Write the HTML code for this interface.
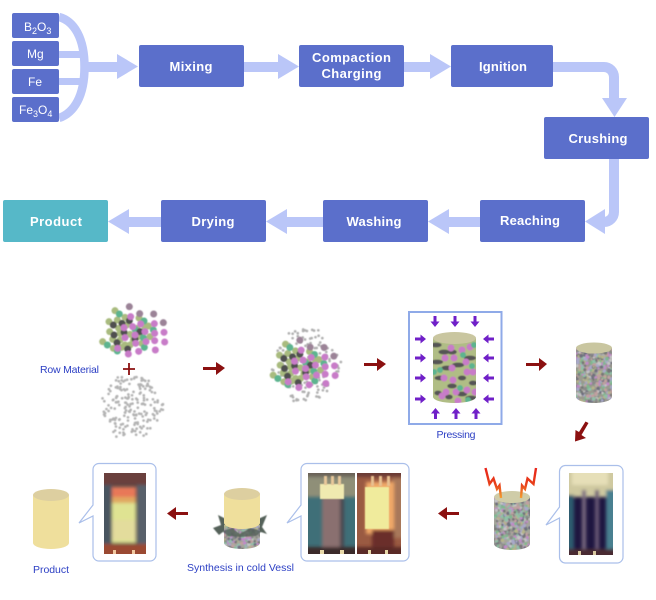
<!DOCTYPE html>
<html><head><meta charset="utf-8"><style>
html,body{margin:0;padding:0;background:#fff;width:656px;height:600px;overflow:hidden}
svg{display:block}
.b{font:bold 13px "Liberation Sans",sans-serif;fill:#fff;text-anchor:middle}
.s{font:12px "Liberation Sans",sans-serif;fill:#fff}
.l{font:10.5px "Liberation Sans",sans-serif;fill:#2c3fc4}
</style></head><body>
<svg xmlns="http://www.w3.org/2000/svg" width="656" height="600" viewBox="0 0 656 600">
<defs>
<filter id="bl" x="-20%" y="-20%" width="140%" height="140%"><feGaussianBlur stdDeviation="0.4"/></filter>
<filter id="sb" x="-5%" y="-5%" width="110%" height="110%"><feGaussianBlur stdDeviation="0.55"/></filter>
<filter id="ph" x="-10%" y="-10%" width="120%" height="120%"><feGaussianBlur stdDeviation="1.6"/></filter>
<linearGradient id="lg" x1="0" y1="0" x2="0" y2="1"><stop offset="0" stop-color="#e8241a"/><stop offset=".55" stop-color="#e8401a"/><stop offset="1" stop-color="#f4a030"/></linearGradient>
<clipPath id="c1"><path d="M433 338V397A21.500 6 0 0 0 476 397V338Z"/></clipPath>
<clipPath id="c2"><path d="M576 348V397A18 6 0 0 0 612 397V348Z"/></clipPath>
<clipPath id="c3"><path d="M494 497V544A18 6 0 0 0 530 544V497Z"/></clipPath>
<clipPath id="c4"><path d="M224 525V543A18 6 0 0 0 260 543V525Z"/></clipPath>
<clipPath id="p1"><rect x="104" y="473" width="42" height="81"/></clipPath>
<clipPath id="p2"><rect x="308" y="473" width="47" height="81"/></clipPath>
<clipPath id="p3"><rect x="357" y="473" width="44" height="81"/></clipPath>
<clipPath id="p4"><rect x="569" y="473" width="44" height="82"/></clipPath>
</defs>

<!-- top connectors -->
<g fill="#bac6f8">
<path d="M59 17C74 21 84.500 38 84.500 67C84.500 96 74 113 59 118" fill="none" stroke="#bac6f8" stroke-width="8.500"/>
<rect x="59" y="51" width="24" height="7"/><rect x="59" y="78" width="24" height="7"/>
<rect x="87" y="62" width="31" height="10"/><path d="M117 54L138 66.500L117 79Z"/>
<rect x="244" y="62" width="35" height="10"/><path d="M278 54L299 66.500L278 79Z"/>
<rect x="404" y="62" width="27" height="10"/><path d="M430 54L451 66.500L430 79Z"/>
<path d="M553 67H604A10 10 0 0 1 614 77V99" fill="none" stroke="#bac6f8" stroke-width="10"/>
<path d="M602 98H627L614.500 117Z"/>
<path d="M614 159V212A10 10 0 0 1 604 222H604" fill="none" stroke="#bac6f8" stroke-width="10"/>
<path d="M605 209V234L585 221.500Z"/>
<rect x="448" y="217" width="32" height="10"/><path d="M449 209V234L428 221.500Z"/>
<rect x="286" y="217" width="37" height="10"/><path d="M287 209V234L266 221.500Z"/>
<rect x="128" y="217" width="33" height="10"/><path d="M129 209V234L108 221.500Z"/>
</g>

<!-- top boxes -->
<g fill="#5b6fcb">
<rect x="12" y="13" width="47" height="25" rx="2"/><rect x="12" y="41" width="47" height="25" rx="2"/>
<rect x="12" y="69" width="47" height="25" rx="2"/><rect x="12" y="97" width="47" height="25" rx="2"/>
<rect x="139" y="45" width="105" height="42" rx="2"/><rect x="299" y="45" width="105" height="42" rx="2"/>
<rect x="451" y="45" width="102" height="42" rx="2"/><rect x="544" y="117" width="105" height="42" rx="2"/>
<rect x="480" y="200" width="105" height="42" rx="2"/><rect x="323" y="200" width="105" height="42" rx="2"/>
<rect x="161" y="200" width="105" height="42" rx="2"/>
</g>
<rect x="3" y="200" width="105" height="42" rx="2" fill="#56b8c8"/>

<text class="s" x="24" y="31">B<tspan font-size="9" dy="3">2</tspan><tspan dy="-3">O</tspan><tspan font-size="9" dy="3">3</tspan></text>
<text class="s" x="27" y="58">Mg</text>
<text class="s" x="28" y="86">Fe</text>
<text class="s" x="19" y="114">Fe<tspan font-size="9" dy="3">3</tspan><tspan dy="-3">O</tspan><tspan font-size="9" dy="3">4</tspan></text>

<text class="b" x="191" y="71" textLength="43">Mixing</text>
<text class="b" x="351.500" y="62" textLength="79">Compaction</text>
<text class="b" x="351.500" y="78" textLength="60">Charging</text>
<text class="b" x="503" y="71" textLength="48">Ignition</text>
<text class="b" x="598" y="143" textLength="59">Crushing</text>
<text class="b" x="530" y="225" textLength="60">Reaching</text>
<text class="b" x="374" y="226" textLength="55">Washing</text>
<text class="b" x="213" y="226" textLength="43">Drying</text>
<text class="b" x="56" y="226" textLength="52">Product</text>

<!-- particle clusters -->
<g id="gray1" fill="#b4b4b4" filter="url(#bl)"></g>
<g id="gray2" fill="#b0b0b0" filter="url(#bl)"></g>
<g id="col1" filter="url(#bl)"></g>
<g id="col2" filter="url(#bl)"></g>

<text class="l" x="40" y="373" textLength="59">Row Material</text>
<path d="M129 363V375M123 369H135" stroke="#8b1010" stroke-width="1.800" fill="none"/>

<!-- red arrows -->
<g fill="#8b1010">
<path d="M203 367H216V362L225 368L216 375V370H203Z"/>
<path d="M364 363H377V358L386 364L377 371V366H364Z"/>
<path d="M526 363H539V358L547 364L539 371V366H526Z"/>
<path d="M585.500 421.500L588.500 423L581.500 435L586 438L575 441.500L575.500 430L579 432Z"/>
<path d="M459 512H447V507L438 513.500L447 520V515H459Z"/>
<path d="M188 512H176V507L167 513.500L176 520V515H188Z"/>
</g>

<!-- pressing -->
<rect x="409" y="312" width="92.500" height="112" fill="#fff" stroke="#8faae8" stroke-width="2"/>
<g clip-path="url(#c1)"><g filter="url(#sb)"><rect x="430" y="335" width="49" height="72" fill="#b0bd85"/><g id="press"></g></g></g>
<ellipse cx="454.500" cy="338" rx="21.500" ry="6" fill="#c9c6a0"/>
<g fill="#7020c8" id="parrows"></g>
<text class="l" x="456" y="438" text-anchor="middle" textLength="39">Pressing</text>

<!-- mixed cylinder -->
<g clip-path="url(#c2)"><g filter="url(#sb)"><rect x="573" y="345" width="42" height="62" fill="#9a9a8e"/><g id="sp2"></g></g></g>
<ellipse cx="594" cy="348" rx="18" ry="5.500" fill="#c9c6a0"/>

<!-- ignition cylinder -->
<g clip-path="url(#c3)"><g filter="url(#sb)"><rect x="491" y="494" width="42" height="60" fill="#a5a59b"/><g id="sp3"></g></g></g>
<ellipse cx="512" cy="497" rx="18" ry="6" fill="#cfcca8"/>
<path d="M485.500 468L489.500 484L493.500 478.500L497 489L499.500 485.500L501 498" fill="none" stroke="url(#lg)" stroke-width="2.400"/>
<path d="M536 468L533.500 484L527.500 478.500L525 489L522 485.500L521 498" fill="none" stroke="url(#lg)" stroke-width="2.400"/>

<!-- callouts -->
<g fill="#fff" stroke="#aabfea" stroke-width="1.200">
<path d="M565 465.500H617A6 6 0 0 1 623 471.500V557A6 6 0 0 1 617 563H565A6 6 0 0 1 559.500 557V518L546 525L559.500 507V471.500A6 6 0 0 1 565 465.500Z"/>
<path d="M307 463.500H403A6 6 0 0 1 409 469.500V555A6 6 0 0 1 403 561H307A6 6 0 0 1 301 555V516L287 523L301 505V469.500A6 6 0 0 1 307 463.500Z"/>
<path d="M99 463.500H150A6 6 0 0 1 156 469.500V555A6 6 0 0 1 150 561H99A6 6 0 0 1 93 555V516L79 523L93 505V469.500A6 6 0 0 1 99 463.500Z"/>
</g>

<!-- photo: right -->
<g clip-path="url(#p4)">
<rect x="569" y="473" width="44" height="82" fill="#1e1640"/>
<g filter="url(#ph)">
<rect x="560" y="465" width="60" height="32" fill="#cfc9a0"/>
<rect x="562" y="495" width="12" height="66" fill="#2f5c70"/>
<rect x="606" y="490" width="12" height="70" fill="#4a8090"/>
<rect x="572" y="465" width="36" height="20" fill="#e6dfb8"/>
<rect x="582" y="490" width="4" height="66" fill="#7a6a80"/>
<rect x="595" y="490" width="4" height="66" fill="#6a5a76"/>
<rect x="565" y="549" width="52" height="10" fill="#4a2c30"/>
</g>
<rect x="578" y="551" width="3" height="4" fill="#d8c8a0"/><rect x="593" y="551" width="3" height="4" fill="#d8c8a0"/>
</g>

<!-- photo: middle left -->
<g clip-path="url(#p2)">
<rect x="308" y="473" width="47" height="81" fill="#3f6f78"/>
<g filter="url(#ph)">
<rect x="300" y="465" width="60" height="12" fill="#6a6258"/>
<rect x="300" y="477" width="60" height="20" fill="#8f8f78"/>
<rect x="322" y="495" width="20" height="55" fill="#8a6f70"/>
<rect x="340" y="498" width="4" height="50" fill="#4a4650"/>
<rect x="300" y="547" width="60" height="12" fill="#3a2c2c"/>
</g>
<rect x="320" y="484" width="24" height="15" fill="#f0eab0" filter="url(#bl)"/>
<g filter="url(#bl)"><rect x="324" y="476" width="3" height="9" fill="#e8c89a"/><rect x="331" y="476" width="3" height="9" fill="#e8c89a"/><rect x="338" y="476" width="3" height="9" fill="#e8c89a"/></g>
<rect x="320" y="550" width="4" height="4" fill="#e8d8a8"/><rect x="340" y="550" width="4" height="4" fill="#e8d8a8"/>
</g>

<!-- photo: middle right -->
<g clip-path="url(#p3)">
<rect x="357" y="473" width="44" height="81" fill="#9a5a42"/>
<g filter="url(#ph)">
<rect x="350" y="465" width="58" height="12" fill="#6a3a34"/>
<rect x="392" y="478" width="12" height="60" fill="#a8785a"/>
<rect x="366" y="482" width="28" height="52" fill="#f0a868"/>
<rect x="372" y="530" width="22" height="20" fill="#6a2f2c"/>
<rect x="350" y="547" width="58" height="12" fill="#5a2c28"/>
</g>
<g filter="url(#bl)"><rect x="371" y="476" width="3" height="10" fill="#e8c090"/><rect x="379" y="476" width="3" height="10" fill="#e8c090"/><rect x="387" y="476" width="3" height="10" fill="#e8c090"/></g>
<rect x="365" y="487" width="24" height="42" fill="#f0eb9c" filter="url(#bl)"/>
<rect x="368" y="550" width="3" height="4" fill="#e8d8a8"/><rect x="385" y="550" width="3" height="4" fill="#e8d8a8"/>
</g>

<!-- photo: left -->
<g clip-path="url(#p1)">
<rect x="104" y="473" width="42" height="81" fill="#4a4848"/>
<g filter="url(#ph)">
<rect x="98" y="467" width="54" height="18" fill="#6a3f3c"/>
<rect x="98" y="485" width="14" height="62" fill="#4a5560"/>
<rect x="137" y="485" width="14" height="62" fill="#58606a"/>
<rect x="112" y="487" width="24" height="12" fill="#e87858"/>
<rect x="112" y="497" width="24" height="7" fill="#e0a860"/>
<rect x="112" y="503" width="24" height="40" fill="#dfe392"/>
<rect x="112" y="520" width="24" height="20" fill="#e3dc9c"/>
<rect x="98" y="544" width="54" height="14" fill="#9a4a30"/>
</g>
<rect x="113" y="550" width="3" height="4" fill="#f0c8a0"/><rect x="132" y="550" width="3" height="4" fill="#f0c8a0"/>
</g>

<!-- synthesis cylinder -->
<path d="M213 528L221 525L218 515L226 519L230 512L236 522H250L258 519L267 515L262 527L267 534L258 531L252 535L242 533L232 535L224 531L219 535Z" fill="#55625a" filter="url(#bl)"/>
<g clip-path="url(#c4)"><g filter="url(#sb)"><rect x="221" y="522" width="42" height="32" fill="#a5a59b"/><g id="sp4"></g></g></g>
<path d="M222 531L232 528L240 534L250 528L262 531L256 536L240 537L228 536Z" fill="#55625a" opacity=".85" filter="url(#bl)"/>
<path d="M224 494V523A18 6 0 0 0 260 523V494Z" fill="#efdf9c"/>
<ellipse cx="242" cy="494" rx="18" ry="6" fill="#ddcfa0"/>
<text class="l" x="187" y="571" textLength="107">Synthesis in cold Vessl</text>

<!-- product cylinder -->
<path d="M33 495V543A18 6 0 0 0 69 543V495Z" fill="#efdf9c"/>
<ellipse cx="51" cy="495" rx="18" ry="6" fill="#ddcfa0"/>
<text class="l" x="51" y="573" text-anchor="middle" textLength="36">Product</text>
</svg>
<script>
(function(){
var NS="http://www.w3.org/2000/svg",seed=12345;
function r(){seed=(seed*1664525+1013904223)%4294967296;return seed/4294967296;}
function add(p,tag,attrs){var e=document.createElementNS(NS,tag);for(var k in attrs)e.setAttribute(k,attrs[k]);p.appendChild(e);}
var $=function(i){return document.getElementById(i);};
var C={
 "#a9bb7f":[[285,62],[267,95],[292,90],[315,82],[357,84],[269,125],[296,115],[248,155],[278,148],[300,150],[330,133],[350,115],[385,108],[390,140],[315,165],[280,175],[355,140],[320,105],[340,150],[365,160],[300,130],[375,112],[330,165],[305,172]],
 "#5db48f":[[298,72],[372,93],[345,118],[400,120],[262,165],[292,183],[373,172],[370,143]],
 "#4f4f4f":[[280,105],[306,100],[328,92],[282,135],[312,127],[291,158],[345,147],[323,177],[360,125]],
 "#c87cc8":[[332,80],[312,113],[338,110],[362,102],[403,101],[375,125],[404,130],[345,135],[315,143],[378,155],[404,152],[347,160],[293,175],[325,192],[356,184],[406,180],[434,156],[432,127]],
 "#9b8397":[[328,50],[359,71],[401,72],[430,98]]};
function cluster(g,dx,dy){for(var c in C)C[c].forEach(function(p){add(g,"circle",{cx:20+p[0]/3+dx,cy:290+p[1]/3+dy,r:3.5,fill:c});});}
cluster($("col1"),0,0);cluster($("col2"),170.500,33.500);
function grays(g,cx,cy,rx,ry,n,rad){var i=0;while(i<n){var x=(r()*2-1),y=(r()*2-1);if(Math.abs(x)+Math.abs(y)*.55>1)continue;add(g,"circle",{cx:cx+x*rx,cy:cy+y*ry,r:rad});i++;}}
grays($("gray1"),131,407,35,30,190,1.35);
grays($("gray2"),307,365,38,36,150,1.35);
// pressing cylinder blobs
var pg=$("press");
[[436,345],[444,352],[437,362],[447,368],[458,365],[470,358],[441,378],[452,386],[462,378],[473,383],[438,393],[449,397],[462,394],[471,398],[452,352]].forEach(function(p){add(pg,"ellipse",{cx:p[0],cy:p[1],rx:3.5+r()*3,ry:2.4,fill:"#555"});});
[[451,348],[462,350],[470,347],[466,362],[445,358],[454,358],[444,378],[453,380],[467,372],[446,392],[456,392],[467,390],[442,396],[458,401],[473,372],[452,368],[475,392]].forEach(function(p){add(pg,"circle",{cx:p[0],cy:p[1],r:3.5,fill:"#c87cc8"});});
[[474,345],[434,372],[472,366],[460,388],[440,370],[468,400],[463,355]].forEach(function(p){add(pg,"circle",{cx:p[0],cy:p[1],r:3,fill:"#5db48f"});});
// speckles
var cols=["#c08ac8","#7fb88f","#8a8a8a","#b5b58a","#6f6f7f","#a8a8c8","#c0a0a0","#90c0a8","#777","#c4c4c4"];
function speck(g,x,y,w,h,n){for(var i=0;i<n;i++)add(g,"circle",{cx:x+r()*w,cy:y+r()*h,r:1+r()*.9,fill:cols[Math.floor(r()*cols.length)]});}
speck($("sp2"),576,348,36,56,480);speck($("sp3"),494,497,36,54,460);speck($("sp4"),224,525,36,26,220);
// purple arrows
var pa=$("parrows");
function arr(x,y,rot){add(pa,"path",{d:"M-1.500 -5.500H1.500V0H4.500L0 5.500L-4.500 0H-1.500Z",transform:"translate("+x+" "+y+") rotate("+rot+")"});}
[435,455,475].forEach(function(x){arr(x,321.5,0);});
[435.5,456,476].forEach(function(x){arr(x,413.5,180);});
[339,358,378,399].forEach(function(y){arr(420.5,y,-90);arr(488.5,y,90);});
})();
</script>
</body></html>
